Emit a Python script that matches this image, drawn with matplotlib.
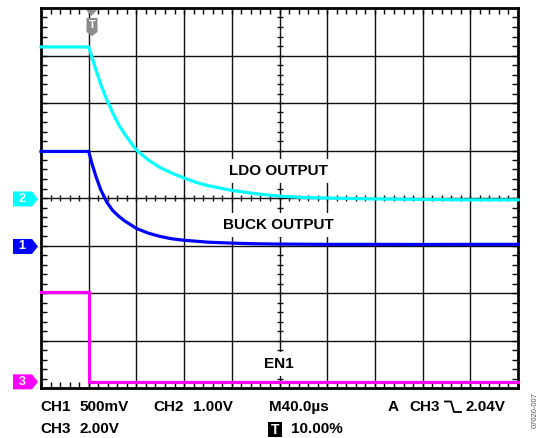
# scope capture: LDO / buck outputs discharging after EN1 goes low

import numpy as np
import matplotlib
matplotlib.use('Agg')
import matplotlib.pyplot as plt
from matplotlib.patches import Polygon, Rectangle

plt.rcParams['font.family'] = ['Liberation Sans', 'DejaVu Sans']

W, H = 538, 438

# timebase: 40 us/div, trigger at 10% of screen
us_per_div = 40.0
trig_div = 1.0

# LDO output (CH2, 1.00V/div, ground at 4.0 div)
ldo_t = [-40, 0, 5, 10, 15, 20, 25, 30, 40, 50, 60, 70, 80, 90, 100, 120,
         140, 160, 180, 200, 240, 280, 320, 360]
ldo_v = [3.20, 3.20, 2.80, 2.42, 2.10, 1.82, 1.57, 1.37, 1.03, 0.82, 0.66,
         0.54, 0.44, 0.35, 0.28, 0.18, 0.11, 0.06, 0.03, 0.02, 0.00, -0.01,
         -0.02, -0.02]

# buck output (CH1, 500mV/div, ground at 2.98 div)
buck_t = [-40, 0, 3, 6, 10, 15, 20, 25, 30, 40, 50, 60, 70, 80, 90, 100,
          120, 140, 160, 200, 240, 280, 320, 360]
buck_v = [1.00, 1.00, 0.86, 0.74, 0.60, 0.47, 0.38, 0.32, 0.27, 0.19, 0.14,
          0.105, 0.08, 0.065, 0.055, 0.045, 0.035, 0.028, 0.025, 0.022,
          0.022, 0.021, 0.022, 0.022]

# EN1 (CH3, 2.00V/div, ground at 0.13 div)
en_t = [-40, 0, 0, 360]
en_v = [3.79, 3.79, 0.0, 0.0]

channels = {
    '2': dict(t=ldo_t, v=ldo_v, scale=1.0, gnd=3.98, color='#00ffff'),
    '1': dict(t=buck_t, v=buck_v, scale=0.5, gnd=2.98, color='#0000ff'),
    '3': dict(t=en_t, v=en_v, scale=2.0, gnd=0.13, color='#ff00ff'),
}

fig = plt.figure(figsize=(W / 100, H / 100), dpi=100)
ax = fig.add_axes([41 / W, 50 / H, 477 / W, 380 / H])
ax.set_xlim(0, 10)
ax.set_ylim(0, 8)


def px(x, y):
    # figure pixel (from top-left) -> figure fraction
    return x / W, 1 - y / H


# graticule
for i in range(1, 10):
    ax.axvline(i, color='#111111', lw=1.0, zorder=1)
for j in range(1, 8):
    ax.axhline(j, color='#111111', lw=1.0, zorder=1)
for s in ax.spines.values():
    s.set_linewidth(2.0)
ax.set_xticks([])
ax.set_yticks([])
ax.set_xticks(np.arange(0, 10.01, 0.2), minor=True)
ax.set_yticks(np.arange(0, 8.01, 0.2), minor=True)
ax.tick_params(which='minor', direction='in', length=4, width=1,
               top=True, right=True, labelbottom=False, labelleft=False)
# cross ticks on centre lines
ax.plot(np.arange(0, 10.01, 0.2), [4] * 51, ls='none', marker='|',
        ms=5, mew=1, color='#111111', zorder=1)
ax.plot([5] * 41, np.arange(0, 8.01, 0.2), ls='none', marker='_',
        ms=5, mew=1, color='#111111', zorder=1)

# traces
for name, ch in channels.items():
    x = [trig_div + t / us_per_div for t in ch['t']]
    y = [ch['gnd'] + v / ch['scale'] for v in ch['v']]
    ax.plot(x, y, color=ch['color'], lw=2.3, zorder=3, clip_on=False,
            solid_joinstyle='miter')

# trace labels
lab_kw = dict(ha='center', va='center', fontsize=11, fontweight='bold',
              zorder=4, bbox=dict(boxstyle='square,pad=0.33', fc='white', ec='none'))
ax.text(*[(278 - 41) / 47.7, (388 - 171) / 47.5], 'LDO OUTPUT', **lab_kw)
ax.text(*[(278 - 41) / 47.7, (388 - 225) / 47.5], 'BUCK OUTPUT', **lab_kw)
ax.text(*[(279 - 41) / 47.7, (388 - 364) / 47.5], 'EN1', **lab_kw)

# channel ground markers on the left
for name, ch in channels.items():
    yc = 388 - ch['gnd'] * 47.5
    verts = [px(13, yc - 7.5), px(32, yc - 7.5), px(38, yc),
             px(32, yc + 7.5), px(13, yc + 7.5)]
    fig.patches.append(Polygon(verts, closed=True, transform=fig.transFigure,
                               fc=ch['color'], ec='none'))
    fig.text(*px(22, yc), name, color='white', fontsize=9, fontweight='bold',
             ha='center', va='center')

# trigger position marker
fig.patches.append(Polygon([px(86, 10), px(97, 10), px(91.5, 16)], closed=True,
                           transform=fig.transFigure, fc='#8c8c8c', ec='none'))
fig.patches.append(Polygon([px(86.5, 18), px(97.5, 18), px(97.5, 32), px(92, 36),
                            px(86.5, 32)], closed=True,
                           transform=fig.transFigure, fc='#8c8c8c', ec='none'))
fig.text(*px(92, 25.5), 'T', color='white', fontsize=8, fontweight='bold',
         ha='center', va='center')

# readout
ro = dict(fontsize=11, fontweight='bold', va='center', ha='left')
fig.text(*px(40, 407), 'CH1', **ro)
fig.text(*px(79, 407), '500mV', **ro)
fig.text(*px(153, 407), 'CH2', **ro)
fig.text(*px(193, 407), '1.00V', **ro)
fig.text(*px(269, 407), 'M40.0µs', **ro)
fig.text(*px(388, 407), 'A', **ro)
fig.text(*px(409, 407), 'CH3', **ro)
fig.text(*px(465, 407), '2.04V', **ro)
fig.lines.append(plt.Line2D(*zip(px(445, 401.5), px(451, 401.5), px(454, 412),
                                 px(461, 412)), transform=fig.transFigure,
                            color='black', lw=1.3))
fig.text(*px(40, 429), 'CH3', **ro)
fig.text(*px(79, 429), '2.00V', **ro)
fig.patches.append(Rectangle(px(268, 437), 14 / W, 15 / H,
                             transform=fig.transFigure, fc='black', ec='none'))
fig.text(*px(275, 429.5), 'T', color='white', fontsize=10, fontweight='bold',
         ha='center', va='center')
fig.text(*px(291, 429), '10.00%', **ro)

fig.text(*px(535, 410), '07020-007', rotation=90, fontsize=5.5,
         color='#555555', ha='center', va='center')

fig.savefig('out.png', dpi=100)
